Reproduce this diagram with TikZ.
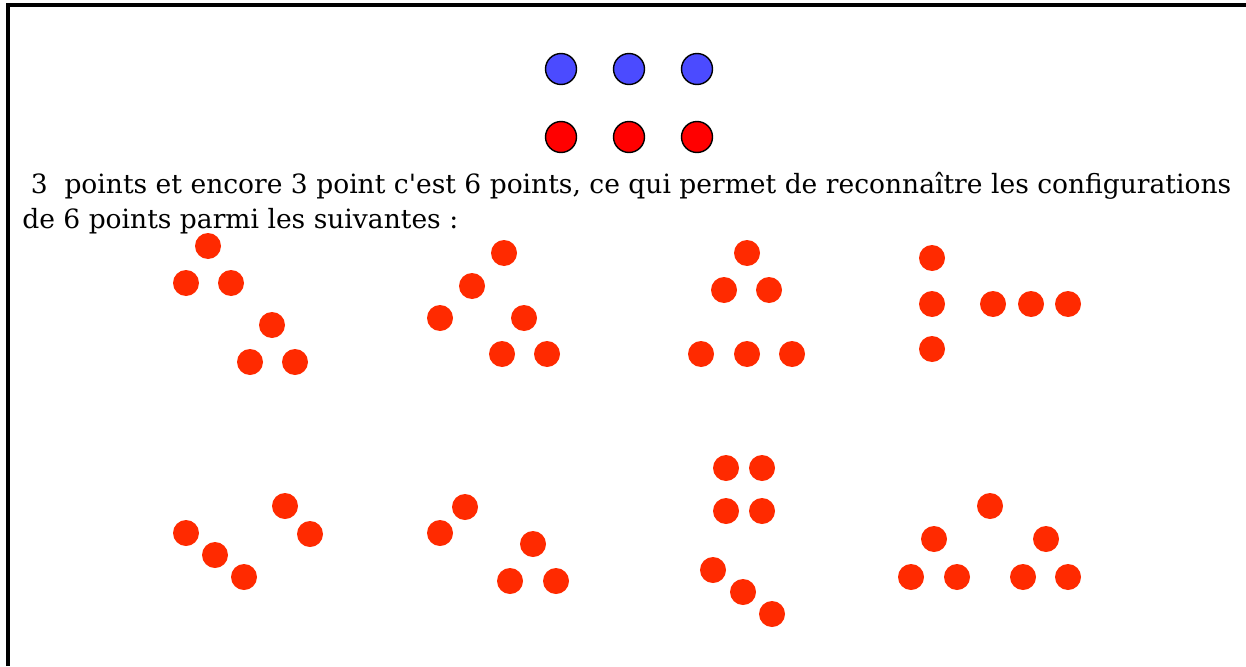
\documentclass[tikz,border=0pt]{standalone}
\usepackage{fontspec}
\setmainfont{DejaVu Serif}[Ligatures=TeXOff]
\usepackage{xcolor}
\usepackage{tikz}
\definecolor{rougevif}{HTML}{FF2A00}
\definecolor{rougepur}{HTML}{FF0000}
\definecolor{bleupoint}{HTML}{4B4BFF}
\tikzset{
  point/.style={circle, fill=rougevif, minimum size=5.2mm, inner sep=0pt},
  pointbleu/.style={circle, draw=black, fill=bleupoint, line width=0.8pt,
    minimum size=6.2mm, inner sep=0pt},
  pointrouge/.style={pointbleu, fill=rougepur},
  ligne/.style={anchor=base west, inner sep=0pt, font=\fontsize{15.1}{18}\selectfont},
  cadre/.style={line width=2.2pt, color=black},
}
\begin{document}
\begin{tikzpicture}[x=0.02cm, y=-0.02cm]
    \useasboundingbox (0,0) rectangle (1246,666);
    \draw[cadre] (8,666) |- (1246,5);

    \node[pointbleu] (bleu1) at (561,69) {};
    \node[pointbleu] (bleu2) at (629,69) {};
    \node[pointbleu] (bleu3) at (697,69) {};
    \node[pointrouge] (rouge1) at (561,137) {};
    \node[pointrouge] (rouge2) at (629,137) {};
    \node[pointrouge] (rouge3) at (697,137) {};

    \node[ligne] (ligne1) at (22,193)
      {\ 3\ \ points et encore 3 point c'est 6 points, ce qui permet de reconnaître les configurations};
    \node[ligne] (ligne2) at (22,228) {de 6 points parmi les suivantes :};

    \node[point] (a1) at (208,246) {};
    \node[point] (a2) at (186,283) {};
    \node[point] (a3) at (231,283) {};
    \node[point] (a4) at (272,325) {};
    \node[point] (a5) at (250,362) {};
    \node[point] (a6) at (295,362) {};

    \node[point] (b1) at (504,253) {};
    \node[point] (b2) at (472,286) {};
    \node[point] (b3) at (440,318) {};
    \node[point] (b4) at (524,318) {};
    \node[point] (b5) at (502,354) {};
    \node[point] (b6) at (547,354) {};

    \node[point] (c1) at (747,253) {};
    \node[point] (c2) at (724,290) {};
    \node[point] (c3) at (769,290) {};
    \node[point] (c4) at (701,354) {};
    \node[point] (c5) at (747,354) {};
    \node[point] (c6) at (792,354) {};

    \node[point] (d1) at (932,258) {};
    \node[point] (d2) at (932,304) {};
    \node[point] (d3) at (932,349) {};
    \node[point] (d4) at (993,304) {};
    \node[point] (d5) at (1031,304) {};
    \node[point] (d6) at (1068,304) {};

    \node[point] (e1) at (186,533) {};
    \node[point] (e2) at (215,555) {};
    \node[point] (e3) at (244,577) {};
    \node[point] (e4) at (285,506) {};
    \node[point] (e5) at (310,534) {};

    \node[point] (f1) at (440,533) {};
    \node[point] (f2) at (465,507) {};
    \node[point] (f3) at (533,544) {};
    \node[point] (f4) at (510,581) {};
    \node[point] (f5) at (556,581) {};

    \node[point] (g1) at (726,468) {};
    \node[point] (g2) at (762,468) {};
    \node[point] (g3) at (726,511) {};
    \node[point] (g4) at (762,511) {};
    \node[point] (g5) at (713,570) {};
    \node[point] (g6) at (743,592) {};
    \node[point] (g7) at (772,614) {};

    \node[point] (h1) at (990,506) {};
    \node[point] (h2) at (934,539) {};
    \node[point] (h3) at (1046,539) {};
    \node[point] (h4) at (911,577) {};
    \node[point] (h5) at (957,577) {};
    \node[point] (h6) at (1023,577) {};
    \node[point] (h7) at (1068,577) {};
  \end{tikzpicture}
\end{document}
